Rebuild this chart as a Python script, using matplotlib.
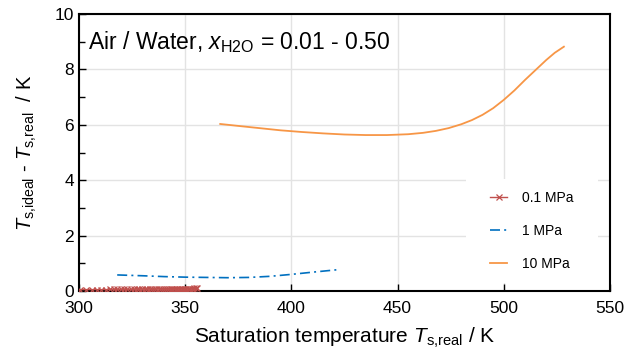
import matplotlib
matplotlib.use('Agg')
import matplotlib.pyplot as plt
from matplotlib.patches import Rectangle
from matplotlib.ticker import MultipleLocator

plt.rcParams.update({
    'font.family': ['Liberation Sans', 'DejaVu Sans'],
    'mathtext.fontset': 'custom',
    'mathtext.rm': 'Liberation Sans',
    'mathtext.it': 'Liberation Sans:italic',
    'mathtext.bf': 'Liberation Sans:bold',
})

# ── DATA ─────────────────────────────────────────────────────────────────────
# 0.1 MPa
t_01 = [300.5, 303.5, 306.0, 308.5, 310.5, 312.5, 314.5, 316.3, 318.0, 319.7,
        321.3, 322.8, 324.3, 325.7, 327.1, 328.4, 329.7, 330.9, 332.1, 333.3,
        334.4, 335.5, 336.5, 337.5, 338.5, 339.5, 340.4, 341.3, 342.2, 343.1,
        343.9, 344.7, 345.5, 346.3, 347.1, 347.8, 348.5, 349.2, 349.9, 350.6,
        351.3, 351.9, 352.5, 353.1, 353.7, 354.3, 354.9, 355.4]
d_01 = [0.05, 0.05, 0.05, 0.05, 0.05, 0.05, 0.06, 0.06, 0.06, 0.06,
        0.06, 0.06, 0.06, 0.06, 0.07, 0.07, 0.07, 0.07, 0.07, 0.07,
        0.07, 0.07, 0.07, 0.08, 0.08, 0.08, 0.08, 0.08, 0.08, 0.08,
        0.08, 0.08, 0.08, 0.08, 0.09, 0.09, 0.09, 0.09, 0.09, 0.09,
        0.09, 0.09, 0.09, 0.09, 0.09, 0.10, 0.10, 0.10]

# 1 MPa
t_1 = [318, 330, 340, 350, 360, 370, 380, 390, 400, 410, 422]
d_1 = [0.58, 0.55, 0.52, 0.50, 0.49, 0.48, 0.49, 0.53, 0.60, 0.68, 0.77]

# 10 MPa
t_10 = [366.5, 375, 385, 395, 405, 415, 425, 435, 445, 455, 462, 468,
        474, 480, 485, 490, 495, 500, 505, 510, 515, 520, 524, 528.3]
d_10 = [6.03, 5.96, 5.88, 5.80, 5.74, 5.69, 5.65, 5.63, 5.63, 5.66, 5.71, 5.78,
        5.88, 6.02, 6.17, 6.36, 6.60, 6.90, 7.24, 7.62, 7.98, 8.34, 8.60, 8.82]

series_labels = ['0.1 MPa', '1 MPa', '10 MPa']

RED = '#c0504d'
BLUE = '#0070c0'
ORANGE = '#f79646'

fig = plt.figure(figsize=(6.41, 3.52), dpi=100)
ax = fig.add_axes([0.1232, 0.1733, 0.8284, 0.7869])

ax.plot(t_01, d_01, color=RED, lw=1.0, marker='x', ms=4, mew=0.9,
        label=series_labels[0], zorder=3)
ax.plot(t_1, d_1, color=BLUE, lw=1.2, linestyle=(0, (6, 2.5, 1.2, 2.5)),
        label=series_labels[1], zorder=3)
ax.plot(t_10, d_10, color=ORANGE, lw=1.3, label=series_labels[2], zorder=3)

ax.set_xlim(300, 550)
ax.set_ylim(0, 10)
ax.xaxis.set_major_locator(MultipleLocator(50))
ax.yaxis.set_major_locator(MultipleLocator(2))
ax.yaxis.set_minor_locator(MultipleLocator(1))
ax.grid(True, which='major', color='#e3e3e3', lw=1.0, zorder=0)
ax.set_axisbelow(True)

for s in ax.spines.values():
    s.set_linewidth(1.5)
    s.set_color('black')

ax.tick_params(axis='both', which='both', direction='in', labelsize=12.5,
               top=False, right=False, colors='black')
ax.tick_params(which='major', length=5, width=1)
ax.tick_params(which='minor', length=4, width=1)
ax.tick_params(axis='x', pad=7)

ax.set_xlabel(r'Saturation temperature $\mathit{T}_\mathrm{s{,}real}$ / K',
              fontsize=15, labelpad=7)
ax.set_ylabel(r'$\mathit{T}_\mathrm{s{,}ideal}$ - $\mathit{T}_\mathrm{s{,}real}$  / K',
              fontsize=14.5, labelpad=11)

ax.text(0.017, 0.9, r'Air / Water, $\mathit{x}_\mathrm{H2O}$ = 0.01 - 0.50',
        transform=ax.transAxes, fontsize=16.5, va='center', ha='left')

# white box behind the legend hides the grid lines
ax.add_patch(Rectangle((0.728, 0.03), 0.25, 0.375, transform=ax.transAxes,
                       facecolor='white', edgecolor='none', zorder=1))

leg = ax.legend(loc='upper left', bbox_to_anchor=(0.774, 0.36), frameon=False,
                fontsize=10, handlelength=1.25, labelspacing=1.35,
                borderpad=0, handletextpad=1.05, borderaxespad=0)

fig.savefig('out.png', dpi=100)
